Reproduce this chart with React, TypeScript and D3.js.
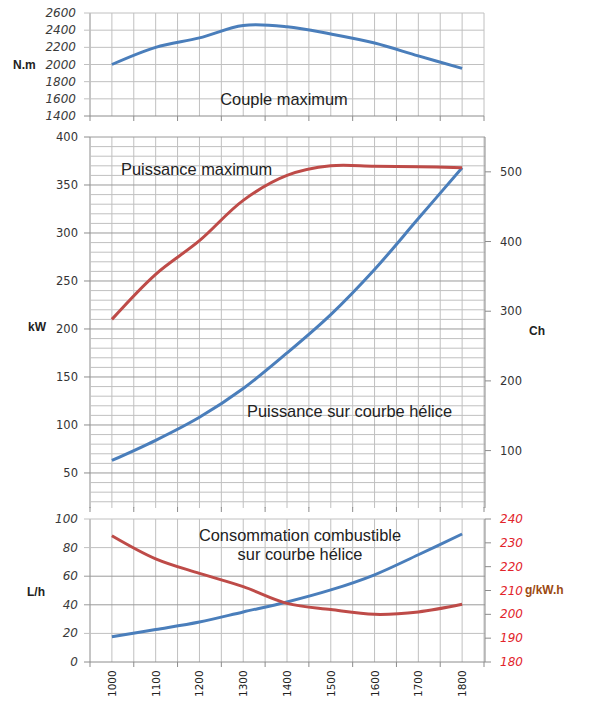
import React from 'react';
import * as d3 from 'd3';

// régimes moteur (tr/min)
const rpm = [1000, 1100, 1200, 1300, 1400, 1500, 1600, 1700, 1800];

// couple maximum (N.m)
const couple = [2000, 2200, 2310, 2455, 2440, 2355, 2250, 2100, 1955];

// puissance (kW)
const puissanceMax = [210, 257, 292, 334, 360, 370, 369.5, 369, 368];
const puissanceHelice = [63, 84, 108, 138, 175, 215, 262, 315, 368];

// consommation
const consoLh = [17.6, 22.7, 28, 35, 42, 50.4, 61, 75, 89.5];
const consoSpec = [233, 223.3, 217.2, 211.6, 204.6, 202, 200, 201, 204.2];

// graduations
const coupleTicks = [1400, 1600, 1800, 2000, 2200, 2400, 2600];
const kwTicks = [50, 100, 150, 200, 250, 300, 350, 400];
const chTicks = [100, 200, 300, 400, 500];
const lhTicks = [0, 20, 40, 60, 80, 100];
const gkwhTicks = [180, 190, 200, 210, 220, 230, 240];

const BLUE = '#4a7ebb';
const RED = '#be4b48';
const GRID = '#c0c0c0';
const AXIS = '#8c8c8c';

const x = d3.scaleLinear().domain([950, 1850]).range([90, 484]);
const xGrid = d3.range(950, 1851, 50);
const xBounds = d3.range(950, 1851, 100);

const yTop = d3.scaleLinear().domain([1400, 2600]).range([116, 13]);
const yMid = d3.scaleLinear().domain([13.5, 400]).range([508, 137]);
const yMidR = d3.scaleLinear().domain([17.6, 550]).range([508, 137]);
const yBot = d3.scaleLinear().domain([0, 100]).range([662, 519]);
const yBotR = d3.scaleLinear().domain([180, 240]).range([662, 519]);

const path = (vals: number[], y: d3.ScaleLinear<number, number>) =>
  d3
    .line<number>()
    .x((_, i) => x(rpm[i]))
    .y((v) => y(v))
    .curve(d3.curveCatmullRom.alpha(0.5))(vals) || '';

const tickFont = '"DejaVu Sans", sans-serif';
const labelFont = '"Liberation Sans", Arial, sans-serif';

const VGrid: React.FC<{ y0: number; y1: number }> = ({ y0, y1 }) => (
  <g>
    {xGrid.map((v) => (
      <line key={v} x1={x(v)} x2={x(v)} y1={y0} y2={y1} stroke={v === 950 ? AXIS : GRID} strokeWidth={1} />
    ))}
  </g>
);

const BottomTicks: React.FC<{ y: number }> = ({ y }) => (
  <g>
    {xBounds.map((v) => (
      <line key={v} x1={x(v)} x2={x(v)} y1={y} y2={y + 5} stroke={AXIS} />
    ))}
  </g>
);

const App: React.FC = () => {
  const midGrid = d3.range(20, 401, 10);
  return (
    <div style={{ position: 'absolute', left: 0, top: 0 }}>
      <svg width={592} height={702} style={{ display: 'block', background: '#fff' }}>
        {/* ---- Couple ---- */}
        <VGrid y0={13} y1={116} />
        {coupleTicks.map((t) => (
          <g key={t}>
            <line x1={84} x2={484} y1={yTop(t)} y2={yTop(t)} stroke={t === 1400 ? AXIS : GRID} />
            <text
              x={76}
              y={yTop(t) + 4}
              textAnchor="end"
              fontFamily={tickFont}
              fontStyle="italic"
              fontSize={12}
              fill="#3a3a3a"
            >
              {t}
            </text>
          </g>
        ))}
        <BottomTicks y={116} />
        <text x={13} y={69} fontFamily={labelFont} fontWeight="bold" fontSize={12} fill="#222">
          N.m
        </text>
        <text x={284} y={105} textAnchor="middle" fontFamily={labelFont} fontSize={16.4} fill="#222">
          Couple maximum
        </text>
        <path d={path(couple, yTop)} fill="none" stroke={BLUE} strokeWidth={3} />

        {/* ---- Puissance ---- */}
        <VGrid y0={137} y1={508} />
        {midGrid.map((t) => (
          <line
            key={t}
            x1={90}
            x2={485}
            y1={yMid(t)}
            y2={yMid(t)}
            stroke={t % 50 === 0 ? '#9a9a9a' : GRID}
          />
        ))}
        <line x1={485} x2={485} y1={137} y2={508} stroke={AXIS} />
        {kwTicks.map((t) => (
          <g key={t}>
            <line x1={84} x2={90} y1={yMid(t)} y2={yMid(t)} stroke={AXIS} />
            <text x={78} y={yMid(t) + 4} textAnchor="end" fontFamily={tickFont} fontSize={11.5} fill="#333">
              {t}
            </text>
          </g>
        ))}
        {chTicks.map((t) => (
          <g key={t}>
            <line x1={485} x2={491} y1={yMidR(t)} y2={yMidR(t)} stroke={AXIS} />
            <text x={500} y={yMidR(t) + 4} fontFamily={tickFont} fontSize={11.5} fill="#333">
              {t}
            </text>
          </g>
        ))}
        <BottomTicks y={507} />
        <text x={28} y={331} fontFamily={labelFont} fontWeight="bold" fontSize={12} fill="#222">
          kW
        </text>
        <text x={529} y={335} fontFamily={labelFont} fontWeight="bold" fontSize={12} fill="#222">
          Ch
        </text>
        <text x={121} y={175} fontFamily={labelFont} fontSize={16.4} fill="#222">
          Puissance maximum
        </text>
        <text x={247} y={416.5} fontFamily={labelFont} fontSize={16.4} fill="#222">
          Puissance sur courbe hélice
        </text>
        <path d={path(puissanceHelice, yMid)} fill="none" stroke={BLUE} strokeWidth={3} />
        <path d={path(puissanceMax, yMid)} fill="none" stroke={RED} strokeWidth={3} />

        {/* ---- Consommation ---- */}
        <VGrid y0={519} y1={662} />
        {lhTicks.map((t) => (
          <g key={t}>
            <line
              x1={84}
              x2={485}
              y1={yBot(t)}
              y2={yBot(t)}
              stroke={t === 0 ? AXIS : t === 40 || t === 60 ? '#9a9a9a' : GRID}
            />
            <text
              x={78}
              y={yBot(t) + 4}
              textAnchor="end"
              fontFamily={tickFont}
              fontStyle="italic"
              fontSize={12}
              fill="#3a3a3a"
            >
              {t}
            </text>
          </g>
        ))}
        <line x1={485} x2={485} y1={519} y2={662} stroke={AXIS} />
        {gkwhTicks.map((t) => (
          <g key={t}>
            <line x1={485} x2={491} y1={yBotR(t)} y2={yBotR(t)} stroke={AXIS} />
            <text
              x={500}
              y={yBotR(t) + 4}
              fontFamily={tickFont}
              fontStyle="italic"
              fontSize={12}
              fill="#e2242b"
            >
              {t}
            </text>
          </g>
        ))}
        <BottomTicks y={662} />
        {rpm.map((v) => (
          <text
            key={v}
            transform={`translate(${x(v) + 4},${697}) rotate(-90)`}
            fontFamily={tickFont}
            fontSize={10.5}
            fill="#222"
          >
            {v}
          </text>
        ))}
        <text x={27} y={596} fontFamily={labelFont} fontWeight="bold" fontSize={12} fill="#222">
          L/h
        </text>
        <text x={525} y={594} fontFamily={labelFont} fontWeight="bold" fontSize={12} fill="#9c4a12">
          g/kW.h
        </text>
        <text x={300} y={541} textAnchor="middle" fontFamily={labelFont} fontSize={16.4} fill="#222">
          Consommation combustible
        </text>
        <text x={300} y={560} textAnchor="middle" fontFamily={labelFont} fontSize={16.4} fill="#222">
          sur courbe hélice
        </text>
        <path d={path(consoLh, yBot)} fill="none" stroke={BLUE} strokeWidth={3} />
        <path d={path(consoSpec, yBotR)} fill="none" stroke={RED} strokeWidth={3} />
      </svg>
    </div>
  );
};

export default App;
